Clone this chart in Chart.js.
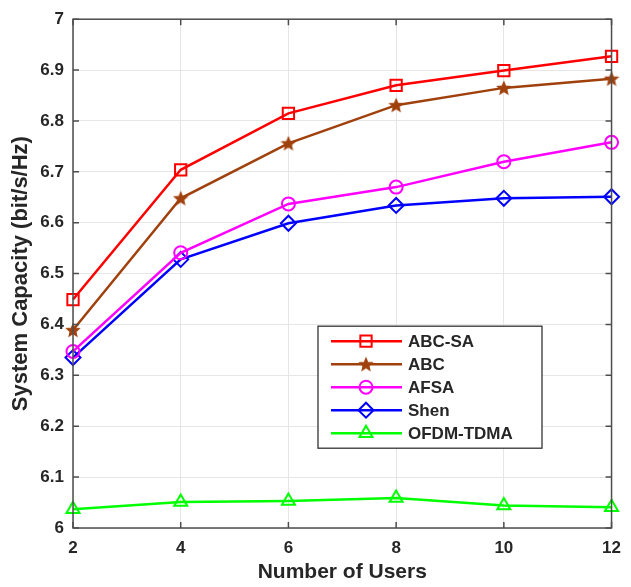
<!DOCTYPE html>
<html>
<head>
<meta charset="utf-8">
<script src="https://cdn.jsdelivr.net/npm/chart.js@4"></script>
<style>
  body { margin: 0; background: #fff; }
  #wrap { width: 631px; height: 587px; }
</style>
</head>
<body>
<div id="wrap"><canvas id="capChart" width="631" height="587"></canvas></div>
<script>
users = [2, 4, 6, 8, 10, 12];
seriesNames = ["ABC-SA", "ABC", "AFSA", "Shen", "OFDM-TDMA"];
abcSa = [6.449, 6.704, 6.815, 6.870, 6.899, 6.927];
abc = [6.389, 6.648, 6.756, 6.831, 6.865, 6.883];
afsa = [6.347, 6.541, 6.637, 6.670, 6.720, 6.758];
shen = [6.335, 6.528, 6.599, 6.634, 6.648, 6.651];
ofdmTdma = [6.037, 6.051, 6.053, 6.059, 6.044, 6.041];
yTicks = [6, 6.1, 6.2, 6.3, 6.4, 6.5, 6.6, 6.7, 6.8, 6.9, 7];

const FONT = "'Liberation Sans', Arial, sans-serif";
const TXT = "#262626";

// filled pentagram marker for ABC
function makeStar(color) {
  const c = document.createElement("canvas");
  c.width = 16; c.height = 16;
  const g = c.getContext("2d");
  g.fillStyle = color;
  g.strokeStyle = color;
  g.lineWidth = 1.2;
  g.beginPath();
  for (let i = 0; i < 10; i++) {
    const r = i % 2 === 0 ? 6.6 : 3;
    const a = -Math.PI / 2 + i * Math.PI / 5;
    const px = 8 + r * Math.cos(a), py = 8.6 + r * Math.sin(a);
    if (i === 0) g.moveTo(px, py); else g.lineTo(px, py);
  }
  g.closePath();
  g.fill();
  g.stroke();
  return c;
}

function toPoints(vals) {
  return users.map((u, i) => ({ x: u, y: vals[i] }));
}

const styles = [
  { color: "#ff0000", pointStyle: "rect", radius: 8 },
  { color: "#a0410d", pointStyle: makeStar("#a0410d"), radius: 7 },
  { color: "#ff00ff", pointStyle: "circle", radius: 6.5 },
  { color: "#0000ff", pointStyle: "rectRot", radius: 7.5 },
  { color: "#00ff00", pointStyle: "triangle", radius: 7.5 },
];
const allVals = [abcSa, abc, afsa, shen, ofdmTdma];

datasets = seriesNames.map((name, i) => ({
  label: name,
  data: toPoints(allVals[i]),
  borderColor: styles[i].color,
  backgroundColor: "rgba(0,0,0,0)",
  pointBorderColor: styles[i].color,
  pointBackgroundColor: "rgba(0,0,0,0)",
  pointStyle: styles[i].pointStyle,
  pointRadius: styles[i].radius,
  pointBorderWidth: 2,
  borderWidth: 2.5,
  tension: 0,
  clip: false,
}));

// box, inward ticks and in-plot legend
const framePlugin = {
  id: "frame",
  afterDatasetsDraw(chart) {
    const ctx = chart.ctx;
    const a = chart.chartArea;
    const xs = chart.scales.x, ys = chart.scales.y;
    ctx.save();
    ctx.strokeStyle = "#4d4d4d";
    ctx.lineWidth = 1.5;
    ctx.beginPath();
    users.forEach(u => {
      const px = xs.getPixelForValue(u);
      ctx.moveTo(px, a.bottom); ctx.lineTo(px, a.bottom - 6);
      ctx.moveTo(px, a.top); ctx.lineTo(px, a.top + 6);
    });
    yTicks.forEach(v => {
      const py = ys.getPixelForValue(v);
      ctx.moveTo(a.left, py); ctx.lineTo(a.left + 6, py);
      ctx.moveTo(a.right, py); ctx.lineTo(a.right - 6, py);
    });
    ctx.stroke();
    ctx.strokeRect(a.left, a.top, a.right - a.left, a.bottom - a.top);

    // legend
    const lx = a.left + 245, ly = a.top + 307, lw = 224, lh = 122;
    ctx.fillStyle = "#fff";
    ctx.fillRect(lx, ly, lw, lh);
    ctx.strokeStyle = "#333";
    ctx.lineWidth = 1.3;
    ctx.strokeRect(lx, ly, lw, lh);
    ctx.font = "bold 17px " + FONT;
    ctx.textBaseline = "middle";
    chart.data.datasets.forEach((ds, i) => {
      const y = ly + 15 + i * 23;
      ctx.strokeStyle = ds.borderColor;
      ctx.lineWidth = 2.5;
      ctx.beginPath();
      ctx.moveTo(lx + 13, y); ctx.lineTo(lx + 84, y);
      ctx.stroke();
      ctx.lineWidth = 2;
      ctx.fillStyle = "rgba(0,0,0,0)";
      Chart.helpers.drawPoint(ctx, {
        pointStyle: ds.pointStyle, radius: ds.pointRadius, borderWidth: 2, rotation: 0
      }, lx + 48, y);
      ctx.fillStyle = TXT;
      ctx.fillText(ds.label, lx + 90, y + 1);
    });
    ctx.restore();
  }
};

new Chart(document.getElementById("capChart"), {
  type: "line",
  data: { datasets: datasets },
  options: {
    responsive: false,
    animation: false,
    layout: { autoPadding: false, padding: { left: 0, right: 8, top: 15, bottom: 0 } },
    plugins: { legend: { display: false }, tooltip: { enabled: false } },
    scales: {
      x: {
        type: "linear",
        min: 2, max: 12,
        afterFit: s => { s.height = 59; },
        afterBuildTicks: s => { s.ticks = users.map(v => ({ value: v })); },
        grid: { color: "#e6e6e6", lineWidth: 1, drawTicks: false },
        border: { display: false },
        ticks: { padding: 10, color: TXT, font: { family: FONT, size: 17, weight: "bold" } },
        title: {
          display: true, text: "Number of Users", color: TXT,
          font: { family: FONT, size: 21, weight: "bold" },
          padding: { top: 0, bottom: 2 }
        }
      },
      y: {
        min: 6, max: 7,
        afterFit: s => { s.width = 73; },
        afterBuildTicks: s => { s.ticks = yTicks.map(v => ({ value: v })); },
        grid: { color: "#e6e6e6", lineWidth: 1, drawTicks: false },
        border: { display: false },
        ticks: {
          padding: 9, color: TXT,
          font: { family: FONT, size: 17, weight: "bold" },
          callback: v => Number(v.toFixed(1)).toString()
        },
        title: {
          display: true, text: "System Capacity (bit/s/Hz)", color: TXT,
          font: { family: FONT, size: 22, weight: "bold" },
          padding: { top: 8, bottom: 0 }
        }
      }
    }
  },
  plugins: [framePlugin]
});
</script>
</body>
</html>
